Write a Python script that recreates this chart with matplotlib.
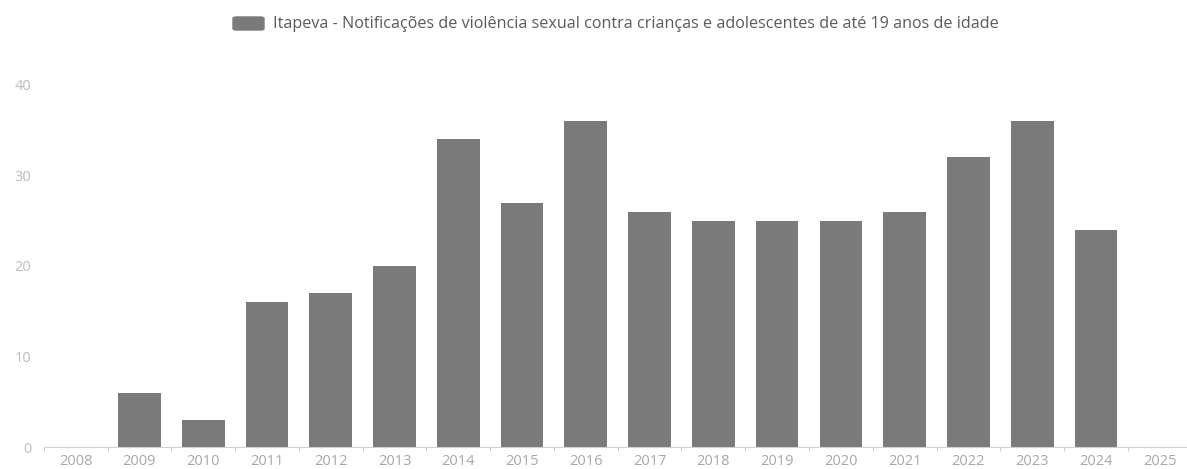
import matplotlib.pyplot as plt
from matplotlib.patches import FancyBboxPatch

anos = ['2008', '2009', '2010', '2011', '2012', '2013', '2014', '2015', '2016',
        '2017', '2018', '2019', '2020', '2021', '2022', '2023', '2024', '2025']
notificacoes = [0, 6, 3, 16, 17, 20, 34, 27, 36, 26, 25, 25, 25, 26, 32, 36, 24, 0]
titulo = 'Itapeva - Notificações de violência sexual contra crianças e adolescentes de até 19 anos de idade'

cor_barra = '#7a7a7a'
plt.rcParams['font.family'] = ['Open Sans', 'DejaVu Sans']

fig = plt.figure(figsize=(11.87, 4.69), dpi=100)
ax = fig.add_axes([0.0369, 0.0469, 0.967, 0.7719])

x = range(len(anos))
ax.bar(x, notificacoes, width=0.67, color=cor_barra, zorder=2)

ax.set_xlim(-0.5, len(anos) - 0.5)
ax.set_ylim(0, 40)
ax.set_yticks([0, 10, 20, 30, 40])
ax.set_xticks(list(x))
ax.set_xticklabels(anos)
ax.set_xticks([i + 0.5 for i in range(-1, len(anos))], minor=True)

for lado in ['top', 'right', 'left']:
    ax.spines[lado].set_visible(False)
ax.spines['bottom'].set_color('#d0d0d0')
ax.tick_params(axis='x', which='major', length=0, pad=5, labelsize=10.5, labelcolor='#a8a8a8')
ax.tick_params(axis='x', which='minor', length=3, color='#c0c0c0', direction='out')
ax.tick_params(axis='y', length=0, pad=9, labelsize=10.5, labelcolor='#bdbdbd')

# legenda
fig.patches.append(FancyBboxPatch((233 / 1187, 1 - 30 / 469), 31 / 1187, 13 / 469,
                                  boxstyle='round,pad=0,rounding_size=0.003',
                                  transform=fig.transFigure, color=cor_barra))
fig.text(273 / 1187, 1 - 24 / 469, titulo, fontsize=11.6, color='#5a5a5a',
         va='center', ha='left')

fig.savefig('out.png', dpi=100)
